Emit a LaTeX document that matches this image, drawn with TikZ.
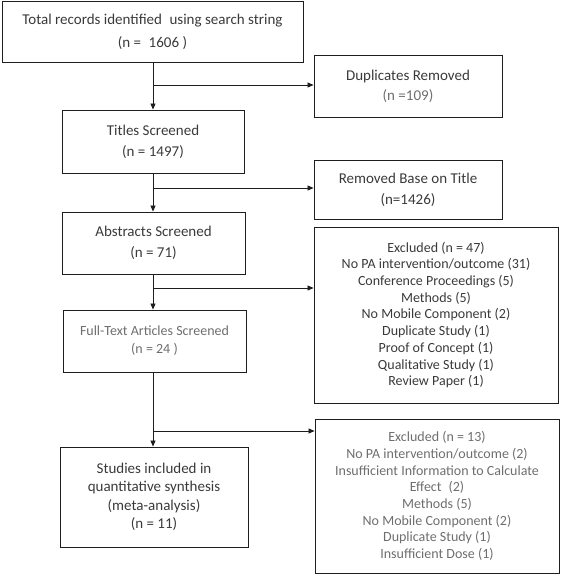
\documentclass[tikz,border=0pt]{standalone}
\usepackage{fontspec}
\setmainfont{Carlito}
\usetikzlibrary{arrows.meta}
\definecolor{txtdark}{HTML}{3A3A3A}
\definecolor{txtlight}{HTML}{6E6E6E}
\definecolor{edge}{HTML}{1E1E1E}
\tikzset{
  box/.style={draw=edge, line width=0.9pt, align=center, inner sep=0pt, text=txtdark, font=\fontsize{15}{23}\selectfont},
  arr/.style={draw=edge, line width=0.8pt, -{Triangle[length=6pt,width=5pt]}},
}
\begin{document}
\begin{tikzpicture}[x=1pt,y=-1pt]
\useasboundingbox (0,0) rectangle (561,575);
\node[box, minimum width=301pt, minimum height=61pt] (b1) at (152.5,31.5) {Total records identified\enspace using search string\\(n =\enspace 1606 )};
\node[box, minimum width=188pt, minimum height=62pt, font=\fontsize{15}{20}\selectfont] (dup) at (408,86) {Duplicates Removed\\\textcolor{txtlight}{(n =109)}};
\node[box, minimum width=182pt, minimum height=63pt, font=\fontsize{15}{21}\selectfont] (tit) at (153,141.5) {Titles Screened\\(n = 1497)};
\node[box, minimum width=188pt, minimum height=59pt, font=\fontsize{15}{21}\selectfont] (rem) at (408,189.5) {Removed Base on Title\\(n=1426)};
\node[box, minimum width=183pt, minimum height=62pt, font=\fontsize{15}{21}\selectfont] (abs) at (153.5,243) {Abstracts Screened\\(n = 71)};
\node[box, minimum width=244pt, minimum height=176pt, font=\fontsize{14}{16.7}\selectfont] (ex1) at (436,315) {Excluded (n = 47)\\No PA intervention/outcome (31)\\Conference Proceedings (5)\\Methods (5)\\No Mobile Component (2)\\Duplicate Study (1)\\Proof of Concept (1)\\Qualitative Study (1)\\Review Paper (1)};
\node[box, minimum width=183pt, minimum height=62pt, text=txtlight, font=\fontsize{14}{18}\selectfont] (ful) at (154.5,341) {Full-Text Articles Screened\\(n = 24 )};
\node[box, minimum width=244pt, minimum height=154pt, text=txtlight, font=\fontsize{14}{16.7}\selectfont] (ex2) at (437,496) {Excluded (n = 13)\\No PA intervention/outcome (2)\\Insufficient Information to Calculate\\Effect\enspace(2)\\Methods (5)\\No Mobile Component (2)\\Duplicate Study (1)\\Insufficient Dose (1)};
\node[box, minimum width=188pt, minimum height=100pt, font=\fontsize{15}{18.5}\selectfont] (fin) at (154,497) {Studies included in\\quantitative synthesis\\(meta-analysis)\\(n = 11)};
\coordinate (j1) at (153,85);
\coordinate (j2) at (153,188);
\coordinate (j3) at (153,288);
\coordinate (j4) at (153,431);
\draw[arr] (b1.south -| j1) -- (tit.north -| j1);
\draw[arr] (tit.south -| j1) -- (abs.north -| j1);
\draw[arr] (abs.south -| j1) -- (ful.north -| j1);
\draw[arr] (ful.south -| j1) -- (fin.north -| j1);
\draw[arr] (j1) -- (j1 -| dup.west);
\draw[arr] (j2) -- (j2 -| rem.west);
\draw[arr] (j3) -- (j3 -| ex1.west);
\draw[arr] (j4) -- (j4 -| ex2.west);
\end{tikzpicture}
\end{document}
